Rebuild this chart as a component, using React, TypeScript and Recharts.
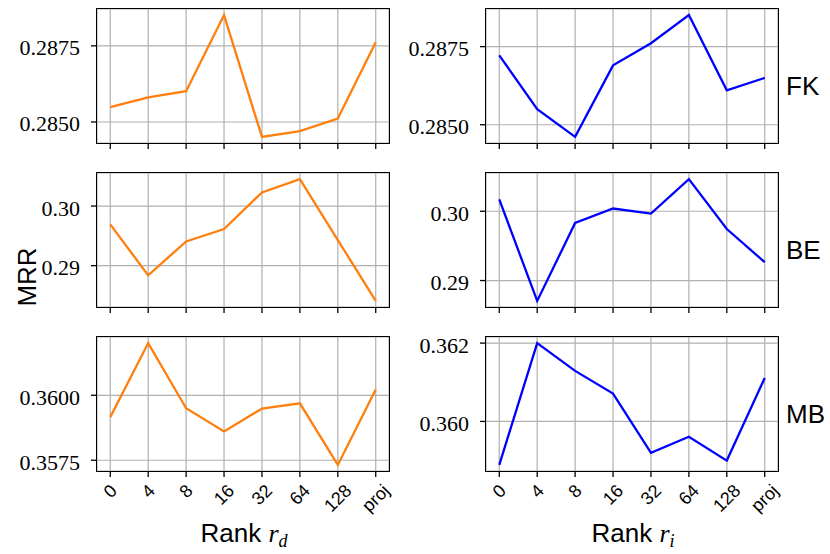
import { LineChart, Line, XAxis, YAxis, CartesianGrid } from "recharts";

// rank settings on the x axis
const ranks = ["0", "4", "8", "16", "32", "64", "128", "proj"];

// MRR per rank, left column = r_d (orange), right column = r_i (blue)
const fkDense = [0.28549, 0.28581, 0.28601, 0.28851, 0.28451, 0.2847, 0.28511, 0.28762];
const fkInter = [0.28722, 0.2855, 0.28461, 0.2869, 0.28761, 0.28851, 0.2861, 0.2865];
const beDense = [0.29692, 0.28838, 0.29407, 0.29615, 0.30228, 0.30452, 0.2943, 0.28409];
const beInter = [0.3017, 0.28706, 0.2983, 0.30039, 0.29967, 0.30464, 0.29743, 0.29265];
const mbDense = [0.35916, 0.36201, 0.3595, 0.35861, 0.35949, 0.35969, 0.35732, 0.36022];
const mbInter = [0.35889, 0.362, 0.36129, 0.36071, 0.3592, 0.35961, 0.359, 0.36111];

// y tick values
const fkTicks = [0.285, 0.2875];
const beTicks = [0.29, 0.3];
const mbDenseTicks = [0.3575, 0.36];
const mbInterTicks = [0.36, 0.362];

const datasets = ["FK", "BE", "MB"];

const ORANGE = "#ff7f0e";
const BLUE = "#0000ff";
const SANS = "'Liberation Sans', Arial, sans-serif";
const SERIF = "'Liberation Serif', 'DejaVu Serif', serif";

const PLOT_W = 292;
const PLOT_H = 134;
const Y_W = 95;
const X_H = 62;
const COL_LEFT = [97, 486];
const ROW_TOP = [9, 173, 337];

// matplotlib style 5% margins
const padded = (vals: number[]): [number, number] => {
  const lo = Math.min(...vals);
  const hi = Math.max(...vals);
  const p = (hi - lo) * 0.05;
  return [lo - p, hi + p];
};

const charW: Record<string, number> = { p: 0.556, r: 0.333, o: 0.556, j: 0.222 };

const RotTick = (props: any) => {
  const { x, y, payload } = props;
  const label = ranks[payload.value] ?? "";
  const fs = 18;
  const w = label.split("").reduce((s: number, c: string) => s + (charW[c] ?? 0.556), 0) * fs;
  const h = 0.72 * fs;
  const cy = y + 4 + (w + h) * 0.354;
  return (
    <text
      x={x}
      y={cy}
      textAnchor="middle"
      dominantBaseline="central"
      fontSize={fs}
      fontFamily={SANS}
      fill="#000"
      transform={`rotate(-45 ${x} ${cy})`}
    >
      {label}
    </text>
  );
};

const NoTick = () => <g />;

const makeYTick = (decimals: number) => (props: any) => {
  const { x, y, payload } = props;
  return (
    <text
      x={x - 4}
      y={y + 2}
      textAnchor="end"
      dominantBaseline="central"
      fontSize={22}
      fontFamily={SERIF}
      fill="#000"
    >
      {Number(payload.value).toFixed(decimals)}
    </text>
  );
};

function Panel({
  values,
  ticks,
  decimals,
  color,
  left,
  top,
  showX,
}: {
  values: number[];
  ticks: number[];
  decimals: number;
  color: string;
  left: number;
  top: number;
  showX: boolean;
}) {
  const data = ranks.map((r, i) => ({ i, r, v: values[i] }));
  const YTick = makeYTick(decimals);
  return (
    <div style={{ position: "absolute", left: left - Y_W, top: top - 5 }}>
      <LineChart
        width={Y_W + PLOT_W + 5}
        height={5 + PLOT_H + X_H}
        data={data}
        margin={{ top: 5, right: 5, left: 0, bottom: 0 }}
      >
        <CartesianGrid stroke="#b0b0b0" strokeWidth={1.2} />
        <XAxis
          dataKey="i"
          type="number"
          domain={[-0.35, 7.35]}
          ticks={[0, 1, 2, 3, 4, 5, 6, 7]}
          height={X_H}
          axisLine={false}
          tickLine={{ stroke: "#000", strokeWidth: 1.3 }}
          tickSize={6}
          tick={showX ? <RotTick /> : <NoTick />}
          interval={0}
        />
        <YAxis
          type="number"
          domain={padded(values)}
          ticks={ticks}
          width={Y_W}
          axisLine={false}
          tickLine={{ stroke: "#000", strokeWidth: 1.3 }}
          tickSize={6}
          tickMargin={7}
          tick={<YTick />}
          interval={0}
          allowDataOverflow
        />
        <Line
          type="linear"
          dataKey="v"
          stroke={color}
          strokeWidth={2.3}
          dot={false}
          isAnimationActive={false}
        />
      </LineChart>
      <div
        style={{
          position: "absolute",
          left: Y_W - 0.75,
          top: 5 - 0.75,
          width: PLOT_W,
          height: PLOT_H,
          border: "1.5px solid #000",
          pointerEvents: "none",
        }}
      />
    </div>
  );
}

export default function App() {
  const rows = [
    { dense: fkDense, inter: fkInter, dTicks: fkTicks, iTicks: fkTicks, dDec: 4, iDec: 4 },
    { dense: beDense, inter: beInter, dTicks: beTicks, iTicks: beTicks, dDec: 2, iDec: 2 },
    { dense: mbDense, inter: mbInter, dTicks: mbDenseTicks, iTicks: mbInterTicks, dDec: 4, iDec: 3 },
  ];
  return (
    <div style={{ position: "absolute", left: 0, top: 0, width: 830, height: 554, background: "#fff" }}>
      {rows.map((row, k) => (
        <div key={datasets[k]}>
          <Panel
            values={row.dense}
            ticks={row.dTicks}
            decimals={row.dDec}
            color={ORANGE}
            left={COL_LEFT[0]}
            top={ROW_TOP[k]}
            showX={k === 2}
          />
          <Panel
            values={row.inter}
            ticks={row.iTicks}
            decimals={row.iDec}
            color={BLUE}
            left={COL_LEFT[1]}
            top={ROW_TOP[k]}
            showX={k === 2}
          />
        </div>
      ))}
      <svg width={830} height={554} style={{ position: "absolute", left: 0, top: 0, pointerEvents: "none" }}>
        {datasets.map((name, k) => (
          <text key={name} x={786} y={ROW_TOP[k] + 86} fontSize={26} fontFamily={SANS} fill="#000">
            {name}
          </text>
        ))}
        <text
          x={36}
          y={277}
          fontSize={26}
          fontFamily={SANS}
          textAnchor="middle"
          fill="#000"
          transform="rotate(-90 36 277)"
        >
          MRR
        </text>
        <text x={244} y={542} fontSize={26} fontFamily={SANS} textAnchor="middle" fill="#000">
          Rank{" "}
          <tspan fontFamily={SERIF} fontStyle="italic">
            r
          </tspan>
          <tspan fontFamily={SERIF} fontStyle="italic" fontSize={18} dy={5}>
            d
          </tspan>
        </text>
        <text x={633} y={542} fontSize={26} fontFamily={SANS} textAnchor="middle" fill="#000">
          Rank{" "}
          <tspan fontFamily={SERIF} fontStyle="italic">
            r
          </tspan>
          <tspan fontFamily={SERIF} fontStyle="italic" fontSize={18} dy={5}>
            i
          </tspan>
        </text>
      </svg>
    </div>
  );
}
